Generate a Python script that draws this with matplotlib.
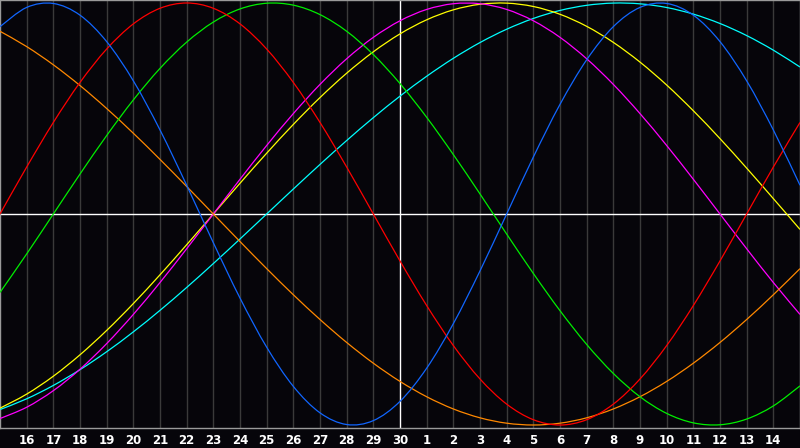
import matplotlib
matplotlib.use("Agg")
import matplotlib.pyplot as plt
from matplotlib.path import Path
from matplotlib.patches import PathPatch

# Day labels (index 1..29 on the x axis; index 15 is the "today" line)
day_labels = ["16", "17", "18", "19", "20", "21", "22", "23", "24", "25", "26", "27", "28", "29", "30",
              "1", "2", "3", "4", "5", "6", "7", "8", "9", "10", "11", "12", "13", "14"]

# Curve values read at each day grid line (index 0..30)
physical = [0.8879, 0.9791, 0.9977, 0.9423, 0.8170, 0.6311, 0.3984, 0.1362, -0.1362, -0.3984,
            -0.6311, -0.8170, -0.9423, -0.9977, -0.9791, -0.8879, -0.7308, -0.5196, -0.2698, 0.0,
            0.2698, 0.5196, 0.7308, 0.8879, 0.9791, 0.9977, 0.9423, 0.8170, 0.6311, 0.3984, 0.1362]
emotional = [0.0, 0.2225, 0.4339, 0.6235, 0.7818, 0.9010, 0.9749, 1.0, 0.9749, 0.9010,
             0.7818, 0.6235, 0.4339, 0.2225, 0.0, -0.2225, -0.4339, -0.6235, -0.7818, -0.9010,
             -0.9749, -1.0, -0.9749, -0.9010, -0.7818, -0.6235, -0.4339, -0.2225, 0.0, 0.2225, 0.4339]
intellectual = [-0.3717, -0.1893, 0.0, 0.1893, 0.3717, 0.5406, 0.6901, 0.8146, 0.9096, 0.9718,
                0.9989, 0.9898, 0.9450, 0.8660, 0.7557, 0.6182, 0.4582, 0.2817, 0.0951, -0.0951,
                -0.2817, -0.4582, -0.6182, -0.7557, -0.8660, -0.9450, -0.9898, -0.9989, -0.9718, -0.9096, -0.8146]
intuitive = [-0.9694, -0.9158, -0.8372, -0.7357, -0.6142, -0.4759, -0.3247, -0.1646, 0.0, 0.1646,
             0.3247, 0.4759, 0.6142, 0.7357, 0.8372, 0.9158, 0.9694, 0.9966, 0.9966, 0.9694,
             0.9158, 0.8372, 0.7357, 0.6142, 0.4759, 0.3247, 0.1646, 0.0, -0.1646, -0.3247, -0.4759]
aesthetic = [-0.9203, -0.8536, -0.7687, -0.6673, -0.5518, -0.4245, -0.2881, -0.1456, 0.0, 0.1456,
             0.2881, 0.4245, 0.5518, 0.6673, 0.7687, 0.8536, 0.9203, 0.9675, 0.9940, 0.9993,
             0.9834, 0.9465, 0.8894, 0.8133, 0.7199, 0.6112, 0.4894, 0.3572, 0.2174, 0.0730, -0.0730]
awareness = [0.8660, 0.7934, 0.7071, 0.6088, 0.5, 0.3827, 0.2588, 0.1305, 0.0, -0.1305,
             -0.2588, -0.3827, -0.5, -0.6088, -0.7071, -0.7934, -0.8660, -0.9239, -0.9659, -0.9914,
             -1.0, -0.9914, -0.9659, -0.9239, -0.8660, -0.7934, -0.7071, -0.6088, -0.5, -0.3827, -0.2588]
spiritual = [-0.9267, -0.8759, -0.8125, -0.7378, -0.6528, -0.5586, -0.4566, -0.3482, -0.2349, -0.1183,
             0.0, 0.1183, 0.2349, 0.3482, 0.4566, 0.5586, 0.6528, 0.7378, 0.8125, 0.8757,
             0.9267, 0.9647, 0.9890, 0.9996, 0.9961, 0.9786, 0.9473, 0.9028, 0.8456, 0.7765, 0.6966]

series = [
    (spiritual, "#00ffff"),
    (aesthetic, "#ffff00"),
    (intuitive, "#ff00ff"),
    (awareness, "#ff8800"),
    (intellectual, "#00ee00"),
    (emotional, "#ff0000"),
    (physical, "#1166ff"),
]


def smooth_path(xs, ys):
    """Smooth (Catmull-Rom style) Bezier path through the given points."""
    n = len(xs)
    verts = [(xs[0], ys[0])]
    codes = [Path.MOVETO]
    for i in range(n - 1):
        i0 = max(i - 1, 0)
        i3 = min(i + 2, n - 1)
        c1 = (xs[i] + (xs[i + 1] - xs[i0]) / 6.0, ys[i] + (ys[i + 1] - ys[i0]) / 6.0)
        c2 = (xs[i + 1] - (xs[i3] - xs[i]) / 6.0, ys[i + 1] - (ys[i3] - ys[i]) / 6.0)
        verts += [c1, c2, (xs[i + 1], ys[i + 1])]
        codes += [Path.CURVE4, Path.CURVE4, Path.CURVE4]
    return Path(verts, codes)


BG = "#06050a"
fig = plt.figure(figsize=(8.0, 4.48), dpi=100, facecolor=BG)
ax = fig.add_axes([0.0, 20 / 448, 1.0, 428 / 448])
ax.set_facecolor(BG)

n = len(physical)
xs = list(range(n))
ax.set_xlim(0, n - 1)
ax.set_ylim(-1.0142, 1.0142)

today = 15
for i in range(1, n - 1):
    if i != today:
        ax.axvline(i, color="#3a3a3a", lw=1.0, zorder=1)
ax.axvline(today, color="white", lw=1.0, zorder=2)
ax.axhline(0, color="white", lw=1.0, zorder=2)

for vals, col in series:
    ax.add_patch(PathPatch(smooth_path(xs, vals), fill=False, edgecolor=col,
                           lw=0.9, zorder=3, clip_on=True))

ax.set_xticks(list(range(1, n - 1)))
ax.set_xticklabels(day_labels, color="white", fontsize=8.5, fontweight="bold",
                   family="DejaVu Sans")
ax.tick_params(axis="x", length=0, pad=4)
ax.set_yticks([])
for s in ax.spines.values():
    s.set_color("#9a9a9a")
    s.set_linewidth(1.0)

fig.savefig("out.png", dpi=100, facecolor=BG)
